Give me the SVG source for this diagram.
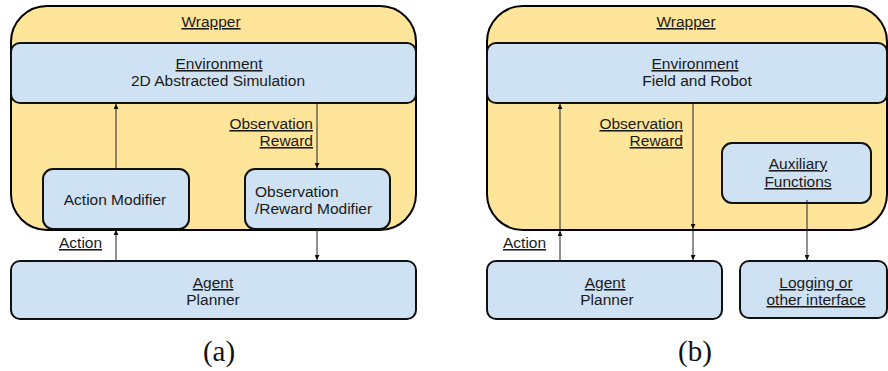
<svg xmlns="http://www.w3.org/2000/svg" width="888" height="371" viewBox="0 0 888 371">
  <style>
    .wrap { fill: #ffe599; stroke: #000; stroke-width: 2; }
    .box { fill: #cfe2f3; stroke: #111; stroke-width: 2; }
    .t { font-family: "Liberation Sans", Arial, sans-serif; font-size: 15.5px; fill: #1a1a1a; }
    .c { text-anchor: middle; }
    .r { text-anchor: end; }
    .u { text-decoration: underline; }
    .cap { font-family: "Liberation Serif", "Times New Roman", serif; font-size: 29px; fill: #111; text-anchor: middle; }
    .link { stroke: #222; stroke-width: 1; fill: none; marker-end: url(#arrow); }
  </style>
  <defs>
    <marker id="arrow" viewBox="0 0 6 6" refX="6" refY="3" markerWidth="5" markerHeight="5" markerUnits="userSpaceOnUse" orient="auto">
      <path d="M0,0 L6,3 L0,6 Z" fill="#111"/>
    </marker>
  </defs>

  <!-- Panel (a) -->
  <g id="wrapper-a">
    <rect class="wrap" x="11" y="6" width="405" height="224" rx="36" ry="36"/>
    <text class="t c u" x="211" y="27">Wrapper</text>
  </g>
  <g id="environment-a">
    <rect class="box" x="11" y="43" width="405" height="60" rx="9" ry="9"/>
    <text class="t c u" x="219" y="69">Environment</text>
    <text class="t c" x="218" y="86">2D Abstracted Simulation</text>
  </g>
  <g id="action-modifier">
    <rect class="box" x="43" y="169" width="146" height="60" rx="10" ry="10"/>
    <text class="t c" x="115" y="205">Action Modifier</text>
  </g>
  <g id="obs-reward-modifier">
    <rect class="box" x="245" y="169" width="145" height="60" rx="10" ry="10"/>
    <text class="t" x="255" y="197">Observation</text>
    <text class="t" x="255" y="214">/Reward Modifier</text>
  </g>
  <g id="agent-a">
    <rect class="box" x="11" y="261" width="405" height="58" rx="9" ry="9"/>
    <text class="t c u" x="213" y="288">Agent</text>
    <text class="t c" x="213" y="305">Planner</text>
  </g>
  <g id="labels-a">
    <text class="t r u" x="313" y="129">Observation</text>
    <text class="t r u" x="313" y="146">Reward</text>
    <text class="t u" x="59" y="248">Action</text>
    <text class="cap" x="219" y="361">(a)</text>
  </g>

  <!-- Panel (b) -->
  <g id="wrapper-b">
    <rect class="wrap" x="487" y="6" width="400" height="224" rx="36" ry="36"/>
    <text class="t c u" x="686" y="27">Wrapper</text>
  </g>
  <g id="environment-b">
    <rect class="box" x="487" y="43" width="400" height="60" rx="9" ry="9"/>
    <text class="t c u" x="695" y="69">Environment</text>
    <text class="t c" x="697" y="86">Field and Robot</text>
  </g>
  <g id="auxiliary">
    <rect class="box" x="722" y="143" width="149" height="60" rx="10" ry="10"/>
    <text class="t c u" x="798" y="169">Auxiliary</text>
    <text class="t c u" x="798" y="187">Functions</text>
  </g>
  <g id="agent-b">
    <rect class="box" x="487" y="261" width="235" height="58" rx="9" ry="9"/>
    <text class="t c u" x="605" y="288">Agent</text>
    <text class="t c" x="607" y="305">Planner</text>
  </g>
  <g id="logging">
    <rect class="box" x="740" y="261" width="147" height="57" rx="9" ry="9"/>
    <text class="t c u" x="816" y="288">Logging or</text>
    <text class="t c u" x="816" y="305">other interface</text>
  </g>
  <g id="labels-b">
    <text class="t r u" x="683" y="129">Observation</text>
    <text class="t r u" x="683" y="146">Reward</text>
    <text class="t u" x="503" y="248">Action</text>
    <text class="cap" x="695" y="361">(b)</text>
  </g>

  <!-- Connectors -->
  <g id="connectors">
    <line class="link" x1="116" y1="169" x2="116" y2="104"/>
    <line class="link" x1="116" y1="261" x2="116" y2="230"/>
    <line class="link" x1="317" y1="103" x2="317" y2="168"/>
    <line class="link" x1="317" y1="230" x2="317" y2="260"/>
    <line class="link" x1="560" y1="261" x2="560" y2="231"/>
    <line class="link" x1="560" y1="229" x2="560" y2="104"/>
    <line class="link" x1="693" y1="103" x2="693" y2="229"/>
    <line class="link" x1="693" y1="231" x2="693" y2="260"/>
    <line class="link" x1="807" y1="200" x2="807" y2="260"/>
  </g>
</svg>
